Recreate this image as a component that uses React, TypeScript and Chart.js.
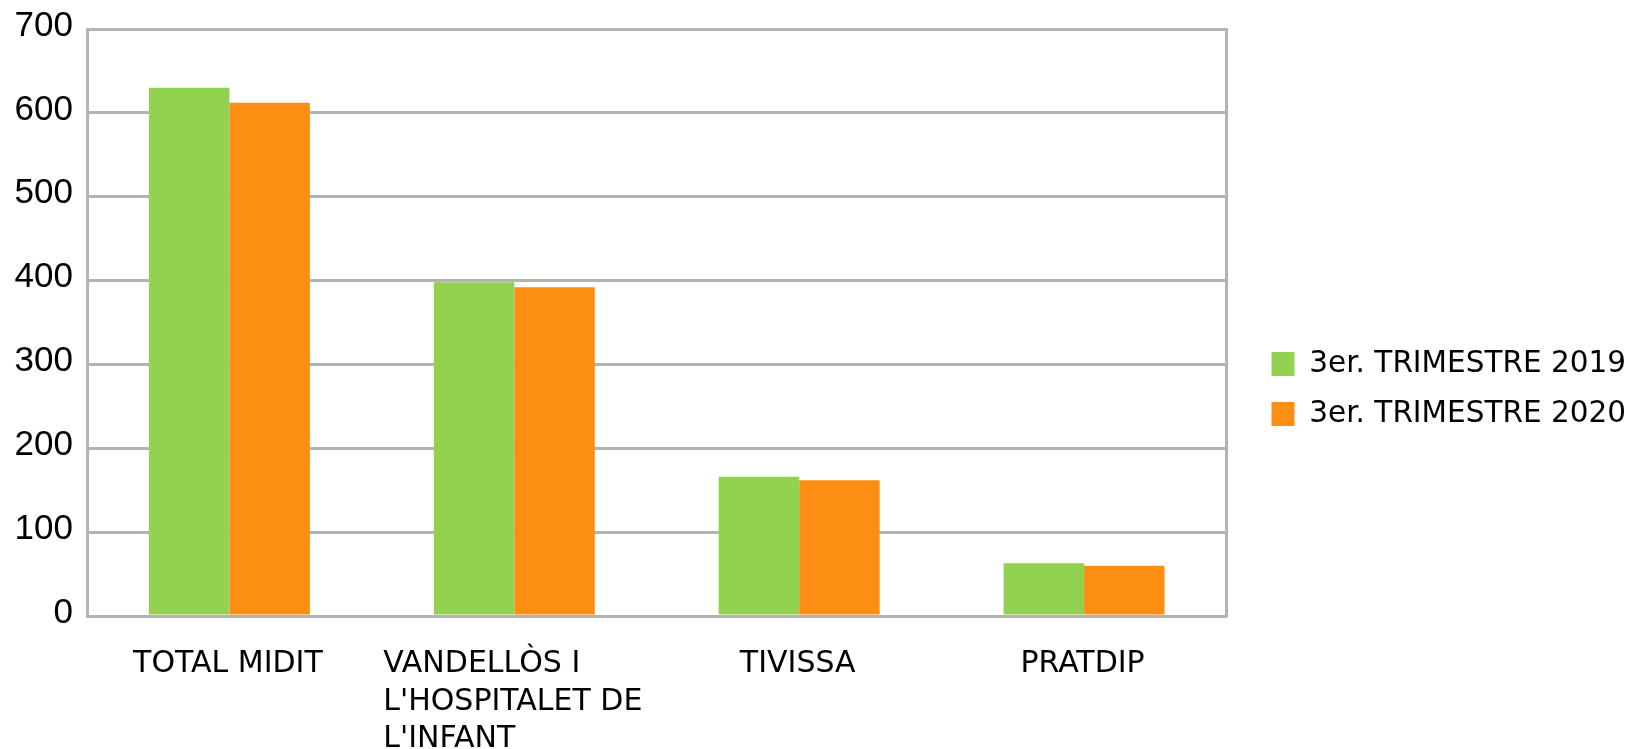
import React, { useEffect, useRef } from "react";
import { Chart, registerables } from "chart.js";

Chart.register(...registerables);

const categories: string[][] = [
  ["TOTAL MIDIT"],
  ["VANDELLÒS I", "L'HOSPITALET DE", "L'INFANT"],
  ["TIVISSA"],
  ["PRATDIP"],
];
const seriesNames = ["3er. TRIMESTRE 2019", "3er. TRIMESTRE 2020"];
const values2019 = [630, 398, 166, 63];
const values2020 = [612, 392, 162, 60];
const yTicks = [0, 100, 200, 300, 400, 500, 600, 700];

const GRID = "#b3b3b3";

const xLabelPlugin = {
  id: "xLabelsBlock",
  afterDraw(chart: any) {
    const xs = chart.scales.x;
    const ctx = chart.ctx;
    ctx.save();
    ctx.font = '30px "DejaVu Sans"';
    ctx.fillStyle = "#000";
    ctx.textAlign = "left";
    ctx.textBaseline = "alphabetic";
    categories.forEach((lines, i) => {
      const cx = xs.getPixelForTick(i);
      const w = Math.max(...lines.map((l) => ctx.measureText(l).width));
      lines.forEach((l, j) => {
        ctx.fillText(l, cx - w / 2 - 1.5, xs.top + 56 + j * 37.5);
      });
    });
    ctx.restore();
  },
};

export default function App() {
  const ref = useRef<HTMLCanvasElement>(null);
  useEffect(() => {
    if (!ref.current) return;
    const chart = new Chart(ref.current, {
      type: "bar",
      data: {
        labels: categories.map((c) => c.join(" ")),
        datasets: [
          {
            label: seriesNames[0],
            data: values2019,
            backgroundColor: "#93d151",
            borderWidth: 0,
            barPercentage: 1,
            categoryPercentage: 0.565,
          },
          {
            label: seriesNames[1],
            data: values2020,
            backgroundColor: "#fd8e14",
            borderWidth: 0,
            barPercentage: 1,
            categoryPercentage: 0.565,
          },
        ],
      },
      options: {
        responsive: false,
        animation: false,
        layout: { padding: { left: 15, top: 29, right: 4, bottom: 0 } },
        plugins: {
          tooltip: { enabled: false },
          legend: {
            position: "right",
            maxWidth: 420,
            labels: {
              boxWidth: 23,
              boxHeight: 24,
              padding: 20.5,
              color: "#000",
              font: { family: "DejaVu Sans", size: 29.5 },
            },
          },
        },
        scales: {
          x: {
            grid: { display: false },
            border: { display: true, color: GRID, width: 3 },
            ticks: { display: false },
            afterFit: (s: any) => {
              s.height = 133;
            },
          },
          y: {
            min: 0,
            max: 700,
            afterBuildTicks: (s: any) => {
              s.ticks = yTicks.map((v) => ({ value: v }));
            },
            afterFit: (s: any) => {
              s.width = 72;
            },
            grid: { color: GRID, lineWidth: 3, drawTicks: false },
            border: { display: true, color: GRID, width: 3 },
            ticks: {
              color: "#000",
              padding: 14,
              labelOffset: -3,
              font: { family: "Liberation Sans", size: 35, lineHeight: 0.8 },
            },
          },
          y2: {
            position: "right",
            min: 0,
            max: 700,
            grid: { display: false, drawTicks: false },
            border: { display: true, color: GRID, width: 3 },
            ticks: { display: false },
            afterFit: (s: any) => {
              s.width = 24.5;
            },
          },
        },
      },
      plugins: [xLabelPlugin],
    });
    return () => chart.destroy();
  }, []);
  return (
    <div style={{ position: "fixed", left: 0, top: 0, width: 1640, height: 749, background: "#fff" }}>
      <canvas ref={ref} width={1640} height={749} style={{ display: "block" }} />
    </div>
  );
}
